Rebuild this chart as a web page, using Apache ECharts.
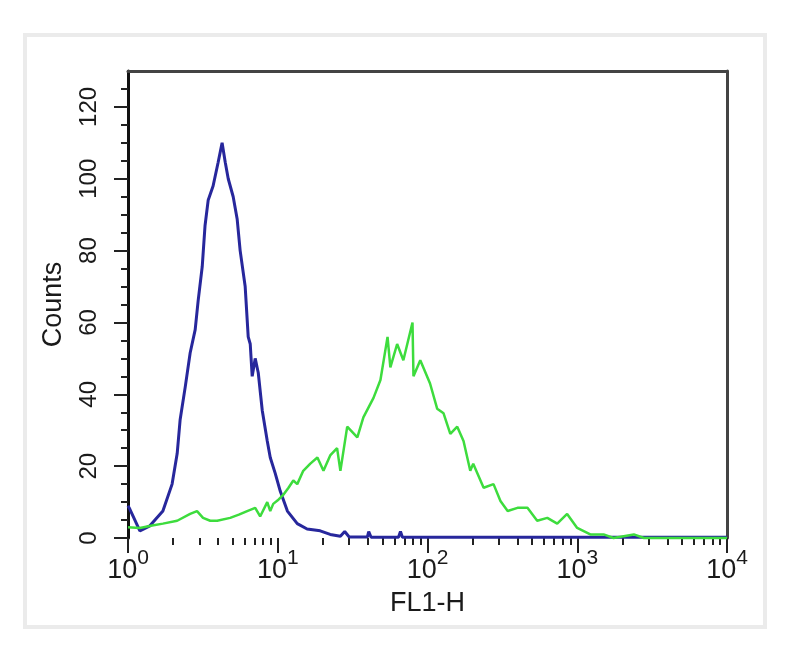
<!DOCTYPE html>
<html>
<head>
<meta charset="utf-8">
<script src="https://cdn.jsdelivr.net/npm/echarts@6/dist/echarts.min.js"></script>
<style>html,body{margin:0;padding:0;background:#fff;}#c{width:800px;height:656px;}</style>
</head>
<body>
<div id="c"></div>
<script>
// FL1-H channel values (x) and counts (y)
const blueX = [1.0, 1.03, 1.2, 1.4, 1.71, 1.97, 2.13, 2.23, 2.41, 2.6, 2.81, 2.94, 3.13, 3.27, 3.43, 3.7, 4.0, 4.25, 4.46, 4.67, 5.04, 5.36, 5.61, 6.06, 6.35, 6.55, 6.75, 7.07, 7.41, 7.88, 8.51, 8.91, 9.62, 10.4, 11.6, 13.5, 15.7, 19.2, 22.4, 26.2, 28, 30, 39.7, 40.5, 42, 64, 66, 68, 10000];
const blueY = [9, 8, 2, 3.4, 7.5, 15, 23.5, 33, 42, 51.5, 58, 66, 75.5, 87, 94, 98, 104.6, 110, 104.6, 100, 95, 88.7, 80, 70, 56, 54, 45, 50, 46, 35.5, 27, 22.4, 18, 13, 7.5, 4, 2.5, 2, 1, 0.5, 1.8, 0.3, 0.3, 1.8, 0.2, 0.2, 1.8, 0.2, 0.2];
const greenX = [1.0, 1.2, 1.45, 1.71, 2.13, 2.6, 2.89, 3.17, 3.54, 3.94, 4.81, 5.5, 6.25, 7.07, 7.63, 8.51, 8.91, 9.33, 10.0, 10.87, 11.8, 12.7, 13.5, 14.8, 16.5, 18.4, 20.2, 22.4, 24.9, 26.2, 29.1, 34.0, 37.3, 43.6, 48.5, 54.1, 56.5, 62.7, 69.0, 79.4, 80.6, 89.5, 104, 116, 128, 142, 158, 174, 193, 202, 237, 276, 307, 343, 399, 465, 540, 631, 735, 856, 999, 1222, 1499, 1747, 2388, 2787, 10000];
const greenY = [3, 2.8, 3.5, 4, 4.8, 6.7, 7.5, 5.6, 4.8, 4.8, 5.6, 6.5, 7.5, 8.4, 6, 10, 7.5, 9.5, 10.5, 12, 14, 16, 15, 18.7, 20.7, 22.4, 18.7, 23, 25, 18.7, 31, 28, 33.6, 39, 44, 56, 47.5, 54, 49.5, 60, 45, 49.5, 43, 36, 34.7, 29, 31, 27, 18.7, 20.7, 14, 15, 10.3, 7.5, 8.4, 8.4, 4.8, 5.6, 4, 6.7, 2.8, 1, 1, 0, 1, 0, 0];
const xMajorTicks = [1, 10, 100, 1000, 10000];
const xMinorTicks = [2,3,4,5,6,7,8,9,20,30,40,50,60,70,80,90,200,300,400,500,600,700,800,900,2000,3000,4000,5000,6000,7000,8000,9000];
const yMajorTicks = [0, 20, 40, 60, 80, 100, 120];
const yMinorTicks = [5, 10, 15, 25, 30, 35, 45, 50, 55, 65, 70, 75, 85, 90, 95, 105, 110, 115, 125];

const pair = (xs, ys) => xs.map((x, i) => [x, ys[i]]);
const FONT = '"Liberation Sans", Arial, sans-serif';
const TXT = '#1a1a1a';
const gridRect = {left: 128, right: 73, top: 71, bottom: 118};

const chart = echarts.init(document.getElementById('c'), null, {renderer: 'canvas'});
chart.setOption({
  backgroundColor: '#ffffff',
  animation: false,
  graphic: [{
    type: 'rect', silent: true, z: -10,
    shape: {x: 25, y: 35, width: 740, height: 592},
    style: {fill: 'none', stroke: '#ebebeb', lineWidth: 4}
  }],
  grid: [Object.assign({}, gridRect), Object.assign({}, gridRect)],
  xAxis: [
    {
      type: 'log', logBase: 10, min: 1, max: 10000, gridIndex: 0, position: 'bottom',
      axisLine: {show: false},
      splitLine: {show: false},
      axisTick: {show: true, customValues: xMajorTicks, length: 15, lineStyle: {color: '#222', width: 2}},
      axisLabel: {
        customValues: xMajorTicks, margin: 10,
        formatter: v => '{b|10}{s|' + Math.round(Math.log10(v)) + '}',
        rich: {
          b: {fontSize: 27, lineHeight: 36, verticalAlign: 'bottom', color: TXT, fontFamily: FONT},
          s: {fontSize: 21, lineHeight: 21, verticalAlign: 'top', color: TXT, fontFamily: FONT}
        }
      },
      name: 'FL1-H', nameLocation: 'middle', nameGap: 52,
      nameTextStyle: {fontSize: 27, color: TXT, fontFamily: FONT}
    },
    {
      type: 'log', logBase: 10, min: 1, max: 10000, gridIndex: 0, position: 'top',
      axisLine: {show: true, onZero: false, lineStyle: {color: '#444', width: 3}},
      axisTick: {show: false}, axisLabel: {show: false}, splitLine: {show: false}
    },
    {
      type: 'log', logBase: 10, min: 1, max: 10000, gridIndex: 1, position: 'bottom',
      axisLine: {show: false, onZero: false}, axisLabel: {show: false}, splitLine: {show: false},
      axisTick: {show: true, customValues: xMinorTicks, length: 7, lineStyle: {color: '#222', width: 2}}
    }
  ],
  yAxis: [
    {
      type: 'value', min: 0, max: 130, gridIndex: 0, position: 'left',
      axisLine: {show: true, onZero: false, lineStyle: {color: '#111', width: 3}},
      splitLine: {show: false},
      axisTick: {show: true, customValues: yMajorTicks, length: 14, lineStyle: {color: '#222', width: 2}},
      axisLabel: {customValues: yMajorTicks, rotate: 90, margin: 27, fontSize: 24, color: TXT, fontFamily: FONT},
      name: 'Counts', nameLocation: 'middle', nameGap: 61, nameRotate: 90,
      nameTextStyle: {fontSize: 27, color: TXT, fontFamily: FONT}
    },
    {
      type: 'value', min: 0, max: 130, gridIndex: 0, position: 'right',
      axisLine: {show: true, onZero: false, lineStyle: {color: '#444', width: 3}},
      axisTick: {show: false}, axisLabel: {show: false}, splitLine: {show: false}
    },
    {
      type: 'value', min: 0, max: 130, gridIndex: 1, position: 'left',
      axisLine: {show: false, onZero: false}, axisLabel: {show: false}, splitLine: {show: false},
      axisTick: {show: true, customValues: yMinorTicks, length: 7, lineStyle: {color: '#222', width: 2}}
    }
  ],
  series: [
    {
      type: 'line', xAxisIndex: 0, yAxisIndex: 0, data: pair(blueX, blueY),
      showSymbol: false, clip: false,
      lineStyle: {color: '#27279c', width: 3}
    },
    {
      type: 'line', xAxisIndex: 0, yAxisIndex: 0, data: pair(greenX, greenY),
      showSymbol: false, clip: false,
      lineStyle: {color: '#3ddc3d', width: 2.5}
    }
  ]
});
</script>
</body>
</html>
